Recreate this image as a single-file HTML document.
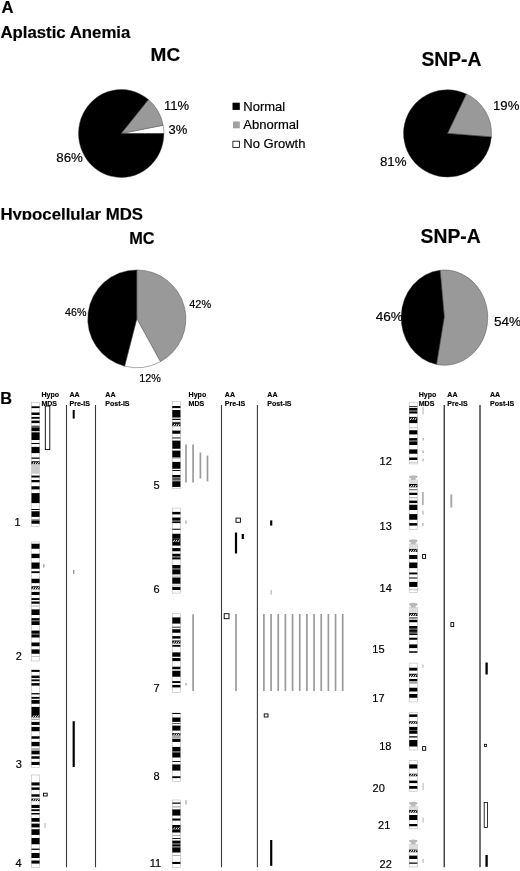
<!DOCTYPE html>
<html><head><meta charset="utf-8"><title>Figure</title>
<style>
html,body{margin:0;padding:0;background:#fff;}
svg{display:block;}
text{font-family:"Liberation Sans",sans-serif;fill:#000;stroke:#000;stroke-width:0.18px;}
.b{font-weight:bold;}
.h{stroke:#000;stroke-width:0.15px;}
</style></head><body>
<svg width="520" height="871" viewBox="0 0 520 871">
<rect width="520" height="871" fill="#fff"/>
<text x="1.6" y="13" class="b" font-size="16.6">A</text>
<text x="0.4" y="37.5" class="b" font-size="16.8">Aplastic Anemia</text>
<text x="150.6" y="61.2" class="b" font-size="19">MC</text>
<text x="421.4" y="66" class="b" font-size="19.3">SNP-A</text>
<clipPath id="cl"><rect x="0" y="200" width="200" height="19.8"/></clipPath>
<text x="0.4" y="220.1" class="b" font-size="16.8" clip-path="url(#cl)">Hypocellular MDS</text>
<text x="129.3" y="243.6" class="b" font-size="16.3">MC</text>
<text x="420.6" y="242.5" class="b" font-size="19.3">SNP-A</text>
<path d="M121.20,133.50 L163.90,133.50 A42.7,44.0 0 0 0 163.14,125.26 Z" fill="#fff" stroke="#444" stroke-width="0.45"/>
<path d="M121.20,133.50 L163.14,125.26 A42.7,44.0 0 0 0 148.42,99.60 Z" fill="#999" stroke="#444" stroke-width="0.45"/>
<path d="M121.20,133.50 L148.42,99.60 A42.7,44.0 0 1 0 163.90,133.50 Z" fill="#000" stroke="#444" stroke-width="0.45"/>
<text x="164" y="110.2" font-size="13">11%</text>
<text x="168.5" y="133.6" font-size="13">3%</text>
<text x="56.3" y="162.4" font-size="13.3">86%</text>
<rect x="232.5" y="102.7" width="7.3" height="7.2" fill="#000"/>
<rect x="233" y="121.5" width="6.8" height="6.8" fill="#a0a0a0"/>
<rect x="232.9" y="141.2" width="6.6" height="6.4" fill="#fff" stroke="#000" stroke-width="0.8"/>
<text x="243.3" y="110.6" font-size="13">Normal</text>
<text x="243.3" y="129" font-size="13">Abnormal</text>
<text x="243.3" y="147.7" font-size="13">No Growth</text>
<path d="M447.50,133.40 L491.36,136.90 A44.0,43.7 0 0 0 466.37,93.92 Z" fill="#999" stroke="#444" stroke-width="0.45"/>
<path d="M447.50,133.40 L466.37,93.92 A44.0,43.7 0 1 0 491.36,136.90 Z" fill="#000" stroke="#444" stroke-width="0.45"/>
<text x="493" y="110.2" font-size="13.2">19%</text>
<text x="379.9" y="165.8" font-size="13.3">81%</text>
<path d="M136.80,318.80 L160.45,361.65 A49.1,48.9 0 0 0 136.80,269.90 Z" fill="#999" stroke="#444" stroke-width="0.45"/>
<path d="M136.80,318.80 L124.59,366.16 A49.1,48.9 0 0 0 160.45,361.65 Z" fill="#fff" stroke="#444" stroke-width="0.45"/>
<path d="M136.80,318.80 L136.80,269.90 A49.1,48.9 0 0 0 124.59,366.16 Z" fill="#000" stroke="#444" stroke-width="0.45"/>
<text x="189.3" y="308.2" font-size="10.9">42%</text>
<text x="65" y="316" font-size="10.7">46%</text>
<text x="139.3" y="382" font-size="10.8">12%</text>
<path d="M444.30,316.70 L436.51,364.40 A43.3,47.6 0 1 0 440.10,270.24 Z" fill="#999" stroke="#444" stroke-width="0.45"/>
<path d="M444.30,316.70 L440.10,270.24 A43.3,47.6 0 0 0 436.51,364.40 Z" fill="#000" stroke="#444" stroke-width="0.45"/>
<text x="375.7" y="320.8" font-size="13.6">46%</text>
<text x="494" y="325.5" font-size="13.6">54%</text>
<text x="0.2" y="403.8" class="b" font-size="16.3">B</text>
<rect x="31.5" y="402.4" width="8.1" height="124.10" fill="#fff" stroke="#bbb" stroke-width="0.6"/>
<rect x="31.5" y="406.3" width="8.1" height="1.80" fill="#000"/>
<rect x="31.5" y="412.5" width="8.1" height="2.50" fill="#000"/>
<rect x="31.5" y="416.9" width="8.1" height="1.85" fill="#000"/>
<rect x="31.5" y="420.6" width="8.1" height="2.50" fill="#000"/>
<rect x="31.5" y="425.6" width="8.1" height="1.90" fill="#555"/>
<rect x="31.5" y="427.5" width="8.1" height="3.70" fill="#000"/>
<rect x="31.5" y="432.3" width="8.1" height="7.70" fill="#000"/>
<rect x="31.5" y="443" width="8.1" height="1.00" fill="#000"/>
<rect x="31.5" y="446.9" width="8.1" height="6.20" fill="#000"/>
<rect x="31.5" y="457.5" width="8.1" height="1.25" fill="#000"/>
<rect x="31.5" y="461.25" width="8.1" height="3.15" fill="#000"/>
<line x1="32.50" y1="464.50" x2="34.00" y2="462.10" stroke="#fff" stroke-width="1.0"/>
<line x1="34.80" y1="464.50" x2="36.30" y2="462.10" stroke="#fff" stroke-width="1.0"/>
<line x1="37.10" y1="464.50" x2="38.60" y2="462.10" stroke="#fff" stroke-width="1.0"/>
<rect x="31.5" y="464.4" width="8.1" height="9.35" fill="#ccc"/>
<rect x="31.5" y="475.6" width="8.1" height="1.90" fill="#000"/>
<rect x="31.5" y="480" width="8.1" height="2.30" fill="#000"/>
<rect x="31.5" y="486.25" width="8.1" height="3.15" fill="#000"/>
<rect x="31.5" y="493.1" width="8.1" height="10.00" fill="#000"/>
<rect x="31.5" y="509" width="8.1" height="1.00" fill="#000"/>
<rect x="31.5" y="511.25" width="8.1" height="5.65" fill="#000"/>
<rect x="31.5" y="519.4" width="8.1" height="1.60" fill="#555"/>
<rect x="31.5" y="521" width="8.1" height="2.75" fill="#000"/>
<rect x="31.5" y="542" width="8.1" height="119.00" fill="#fff" stroke="#bbb" stroke-width="0.6"/>
<rect x="31.5" y="543.75" width="8.1" height="5.00" fill="#000"/>
<rect x="31.5" y="553.75" width="8.1" height="4.35" fill="#000"/>
<rect x="31.5" y="562.5" width="8.1" height="6.25" fill="#000"/>
<rect x="31.5" y="571.25" width="8.1" height="1.85" fill="#000"/>
<rect x="31.5" y="578.75" width="8.1" height="4.35" fill="#000"/>
<rect x="31.5" y="586.25" width="8.1" height="3.15" fill="#000"/>
<line x1="32.50" y1="589.50" x2="34.00" y2="587.10" stroke="#fff" stroke-width="1.0"/>
<line x1="34.80" y1="589.50" x2="36.30" y2="587.10" stroke="#fff" stroke-width="1.0"/>
<line x1="37.10" y1="589.50" x2="38.60" y2="587.10" stroke="#fff" stroke-width="1.0"/>
<rect x="31.5" y="591.9" width="8.1" height="3.10" fill="#000"/>
<rect x="31.5" y="598.1" width="8.1" height="1.90" fill="#000"/>
<rect x="31.5" y="601.5" width="8.1" height="2.25" fill="#000"/>
<rect x="31.5" y="605.6" width="8.1" height="0.90" fill="#aaa"/>
<rect x="31.5" y="609.4" width="8.1" height="5.60" fill="#000"/>
<rect x="31.5" y="618.1" width="8.1" height="2.15" fill="#000"/>
<rect x="31.5" y="620.25" width="8.1" height="1.00" fill="#555"/>
<rect x="31.5" y="621.25" width="8.1" height="3.75" fill="#000"/>
<rect x="31.5" y="630.6" width="8.1" height="3.15" fill="#000"/>
<rect x="31.5" y="633.75" width="8.1" height="1.25" fill="#555"/>
<rect x="31.5" y="635" width="8.1" height="2.50" fill="#000"/>
<rect x="31.5" y="642.5" width="8.1" height="3.75" fill="#000"/>
<rect x="31.5" y="649.4" width="8.1" height="4.35" fill="#000"/>
<rect x="31.5" y="656.25" width="8.1" height="0.75" fill="#aaa"/>
<rect x="31.5" y="669.8" width="8.1" height="97.70" fill="#fff" stroke="#bbb" stroke-width="0.6"/>
<rect x="31.5" y="670" width="8.1" height="1.90" fill="#000"/>
<rect x="31.5" y="675.6" width="8.1" height="2.50" fill="#000"/>
<rect x="31.5" y="679.4" width="8.1" height="1.85" fill="#000"/>
<rect x="31.5" y="683.1" width="8.1" height="2.50" fill="#000"/>
<rect x="31.5" y="693.1" width="8.1" height="1.30" fill="#000"/>
<rect x="31.5" y="696.9" width="8.1" height="1.85" fill="#000"/>
<rect x="31.5" y="700" width="8.1" height="3.75" fill="#000"/>
<rect x="31.5" y="706.9" width="8.1" height="8.10" fill="#000"/>
<rect x="31.5" y="715" width="8.1" height="2.50" fill="#000"/>
<line x1="32.50" y1="717.60" x2="34.00" y2="715.40" stroke="#fff" stroke-width="1.0"/>
<line x1="34.80" y1="717.60" x2="36.30" y2="715.40" stroke="#fff" stroke-width="1.0"/>
<line x1="37.10" y1="717.60" x2="38.60" y2="715.40" stroke="#fff" stroke-width="1.0"/>
<rect x="31.5" y="718.75" width="8.1" height="1.25" fill="#aaa"/>
<rect x="31.5" y="721.9" width="8.1" height="3.10" fill="#000"/>
<rect x="31.5" y="726.9" width="8.1" height="4.35" fill="#000"/>
<rect x="31.5" y="736.25" width="8.1" height="2.50" fill="#000"/>
<rect x="31.5" y="741.9" width="8.1" height="4.35" fill="#000"/>
<rect x="31.5" y="748.1" width="8.1" height="1.90" fill="#aaa"/>
<rect x="31.5" y="750.6" width="8.1" height="3.80" fill="#000"/>
<rect x="31.5" y="756.25" width="8.1" height="2.50" fill="#000"/>
<rect x="31.5" y="761.9" width="8.1" height="3.10" fill="#000"/>
<rect x="31.5" y="775" width="8.1" height="92.40" fill="#fff" stroke="#bbb" stroke-width="0.6"/>
<rect x="31.5" y="782.4" width="8.1" height="3.10" fill="#000"/>
<rect x="31.5" y="787.4" width="8.1" height="2.50" fill="#000"/>
<rect x="31.5" y="794.25" width="8.1" height="2.50" fill="#000"/>
<rect x="31.5" y="798.6" width="8.1" height="2.50" fill="#000"/>
<line x1="32.50" y1="801.20" x2="34.00" y2="799.00" stroke="#fff" stroke-width="1.0"/>
<line x1="34.80" y1="801.20" x2="36.30" y2="799.00" stroke="#fff" stroke-width="1.0"/>
<line x1="37.10" y1="801.20" x2="38.60" y2="799.00" stroke="#fff" stroke-width="1.0"/>
<rect x="31.5" y="804.9" width="8.1" height="3.10" fill="#000"/>
<rect x="31.5" y="809.25" width="8.1" height="1.85" fill="#000"/>
<rect x="31.5" y="813" width="8.1" height="1.50" fill="#000"/>
<rect x="31.5" y="818" width="8.1" height="3.75" fill="#000"/>
<rect x="31.5" y="823.6" width="8.1" height="3.80" fill="#000"/>
<rect x="31.5" y="829.25" width="8.1" height="5.65" fill="#000"/>
<rect x="31.5" y="838" width="8.1" height="6.25" fill="#000"/>
<rect x="31.5" y="848.6" width="8.1" height="1.30" fill="#000"/>
<rect x="31.5" y="853" width="8.1" height="5.00" fill="#000"/>
<rect x="31.5" y="860.5" width="8.1" height="3.10" fill="#000"/>
<rect x="172.3" y="401.3" width="8.1" height="87.45" fill="#fff" stroke="#bbb" stroke-width="0.6"/>
<rect x="172.3" y="406" width="8.1" height="2.10" fill="#000"/>
<rect x="172.3" y="410" width="8.1" height="7.50" fill="#000"/>
<rect x="172.3" y="418.75" width="8.1" height="1.25" fill="#000"/>
<rect x="172.3" y="421.9" width="8.1" height="0.85" fill="#000"/>
<rect x="172.3" y="423.1" width="8.1" height="3.15" fill="#000"/>
<line x1="173.30" y1="426.35" x2="174.80" y2="423.95" stroke="#fff" stroke-width="1.0"/>
<line x1="175.60" y1="426.35" x2="177.10" y2="423.95" stroke="#fff" stroke-width="1.0"/>
<line x1="177.90" y1="426.35" x2="179.40" y2="423.95" stroke="#fff" stroke-width="1.0"/>
<rect x="172.3" y="430.6" width="8.1" height="3.15" fill="#000"/>
<rect x="172.3" y="437.5" width="8.1" height="0.90" fill="#000"/>
<rect x="172.3" y="440.6" width="8.1" height="8.15" fill="#000"/>
<rect x="172.3" y="450.6" width="8.1" height="6.90" fill="#000"/>
<rect x="172.3" y="458.3" width="8.1" height="0.60" fill="#aaa"/>
<rect x="172.3" y="461.9" width="8.1" height="6.85" fill="#000"/>
<rect x="172.3" y="470" width="8.1" height="0.90" fill="#000"/>
<rect x="172.3" y="475" width="8.1" height="2.50" fill="#000"/>
<rect x="172.3" y="478" width="8.1" height="2.60" fill="#555"/>
<rect x="172.3" y="481.25" width="8.1" height="5.65" fill="#000"/>
<rect x="172.3" y="508.1" width="8.1" height="85.00" fill="#fff" stroke="#bbb" stroke-width="0.6"/>
<rect x="172.3" y="511.9" width="8.1" height="2.50" fill="#000"/>
<rect x="172.3" y="517.5" width="8.1" height="2.50" fill="#000"/>
<rect x="172.3" y="520" width="8.1" height="1.50" fill="#555"/>
<rect x="172.3" y="521.5" width="8.1" height="1.60" fill="#000"/>
<rect x="172.3" y="528.75" width="8.1" height="1.00" fill="#000"/>
<rect x="172.3" y="533.75" width="8.1" height="5.00" fill="#000"/>
<rect x="172.3" y="538.75" width="8.1" height="3.15" fill="#000"/>
<line x1="173.30" y1="542.00" x2="174.80" y2="539.60" stroke="#fff" stroke-width="1.0"/>
<line x1="175.60" y1="542.00" x2="177.10" y2="539.60" stroke="#fff" stroke-width="1.0"/>
<line x1="177.90" y1="542.00" x2="179.40" y2="539.60" stroke="#fff" stroke-width="1.0"/>
<rect x="172.3" y="541.9" width="8.1" height="3.70" fill="#000"/>
<rect x="172.3" y="548.1" width="8.1" height="3.15" fill="#000"/>
<rect x="172.3" y="553.75" width="8.1" height="2.50" fill="#000"/>
<rect x="172.3" y="556.25" width="8.1" height="1.25" fill="#555"/>
<rect x="172.3" y="557.5" width="8.1" height="1.90" fill="#000"/>
<rect x="172.3" y="565" width="8.1" height="3.10" fill="#000"/>
<rect x="172.3" y="568.1" width="8.1" height="1.30" fill="#555"/>
<rect x="172.3" y="569.4" width="8.1" height="5.00" fill="#000"/>
<rect x="172.3" y="575.6" width="8.1" height="1.00" fill="#aaa"/>
<rect x="172.3" y="577.5" width="8.1" height="6.25" fill="#000"/>
<rect x="172.3" y="584.75" width="8.1" height="0.85" fill="#aaa"/>
<rect x="172.3" y="586.9" width="8.1" height="3.10" fill="#000"/>
<rect x="172.3" y="613.6" width="8.1" height="78.80" fill="#fff" stroke="#bbb" stroke-width="0.6"/>
<rect x="172.3" y="617.4" width="8.1" height="6.20" fill="#000"/>
<rect x="172.3" y="626.75" width="8.1" height="0.85" fill="#000"/>
<rect x="172.3" y="629.25" width="8.1" height="3.50" fill="#000"/>
<rect x="172.3" y="636.1" width="8.1" height="2.50" fill="#000"/>
<rect x="172.3" y="640.5" width="8.1" height="3.10" fill="#000"/>
<line x1="173.30" y1="643.70" x2="174.80" y2="641.30" stroke="#fff" stroke-width="1.0"/>
<line x1="175.60" y1="643.70" x2="177.10" y2="641.30" stroke="#fff" stroke-width="1.0"/>
<line x1="177.90" y1="643.70" x2="179.40" y2="641.30" stroke="#fff" stroke-width="1.0"/>
<rect x="172.3" y="644.9" width="8.1" height="1.85" fill="#000"/>
<rect x="172.3" y="652.4" width="8.1" height="4.35" fill="#000"/>
<rect x="172.3" y="658" width="8.1" height="3.10" fill="#000"/>
<rect x="172.3" y="666.75" width="8.1" height="2.50" fill="#000"/>
<rect x="172.3" y="670.75" width="8.1" height="6.00" fill="#000"/>
<rect x="172.3" y="681.1" width="8.1" height="1.90" fill="#000"/>
<rect x="172.3" y="684.9" width="8.1" height="2.50" fill="#000"/>
<rect x="172.3" y="713" width="8.1" height="68.25" fill="#fff" stroke="#bbb" stroke-width="0.6"/>
<rect x="172.3" y="713" width="8.1" height="1.00" fill="#000"/>
<rect x="172.3" y="717.5" width="8.1" height="4.40" fill="#000"/>
<rect x="172.3" y="723.1" width="8.1" height="0.65" fill="#000"/>
<rect x="172.3" y="725.6" width="8.1" height="5.00" fill="#000"/>
<rect x="172.3" y="733.1" width="8.1" height="2.50" fill="#000"/>
<line x1="173.30" y1="735.70" x2="174.80" y2="733.50" stroke="#fff" stroke-width="1.0"/>
<line x1="175.60" y1="735.70" x2="177.10" y2="733.50" stroke="#fff" stroke-width="1.0"/>
<line x1="177.90" y1="735.70" x2="179.40" y2="733.50" stroke="#fff" stroke-width="1.0"/>
<rect x="172.3" y="735.6" width="8.1" height="2.50" fill="#aaa"/>
<rect x="172.3" y="738.75" width="8.1" height="3.15" fill="#000"/>
<rect x="172.3" y="746.9" width="8.1" height="4.35" fill="#000"/>
<rect x="172.3" y="751.25" width="8.1" height="1.25" fill="#555"/>
<rect x="172.3" y="752.5" width="8.1" height="5.00" fill="#000"/>
<rect x="172.3" y="761" width="8.1" height="0.90" fill="#000"/>
<rect x="172.3" y="764.4" width="8.1" height="6.20" fill="#000"/>
<rect x="172.3" y="776.25" width="8.1" height="1.85" fill="#000"/>
<rect x="172.3" y="800" width="8.1" height="67.50" fill="#fff" stroke="#bbb" stroke-width="0.6"/>
<rect x="172.3" y="802.5" width="8.1" height="1.25" fill="#000"/>
<rect x="172.3" y="806.25" width="8.1" height="1.25" fill="#aaa"/>
<rect x="172.3" y="809.4" width="8.1" height="6.20" fill="#000"/>
<rect x="172.3" y="818.5" width="8.1" height="2.10" fill="#000"/>
<rect x="172.3" y="825" width="8.1" height="2.00" fill="#000"/>
<rect x="172.3" y="827" width="8.1" height="2.40" fill="#000"/>
<line x1="173.30" y1="829.50" x2="174.80" y2="827.40" stroke="#fff" stroke-width="1.0"/>
<line x1="175.60" y1="829.50" x2="177.10" y2="827.40" stroke="#fff" stroke-width="1.0"/>
<line x1="177.90" y1="829.50" x2="179.40" y2="827.40" stroke="#fff" stroke-width="1.0"/>
<rect x="172.3" y="829.4" width="8.1" height="3.10" fill="#000"/>
<rect x="172.3" y="835" width="8.1" height="1.00" fill="#aaa"/>
<rect x="172.3" y="838.1" width="8.1" height="0.90" fill="#000"/>
<rect x="172.3" y="840.6" width="8.1" height="2.50" fill="#000"/>
<rect x="172.3" y="843.1" width="8.1" height="1.30" fill="#555"/>
<rect x="172.3" y="844.4" width="8.1" height="1.85" fill="#000"/>
<rect x="172.3" y="846.25" width="8.1" height="1.25" fill="#555"/>
<rect x="172.3" y="847.5" width="8.1" height="5.00" fill="#000"/>
<rect x="172.3" y="855" width="8.1" height="0.90" fill="#aaa"/>
<rect x="172.3" y="861.9" width="8.1" height="2.10" fill="#000"/>
<rect x="409.2" y="402.25" width="8.1" height="61.65" fill="#fff" stroke="#bbb" stroke-width="0.6"/>
<rect x="409.2" y="406.25" width="8.1" height="0.75" fill="#000"/>
<rect x="409.2" y="407.9" width="8.1" height="2.70" fill="#000"/>
<rect x="409.2" y="410.6" width="8.1" height="0.90" fill="#555"/>
<rect x="409.2" y="411.5" width="8.1" height="2.00" fill="#000"/>
<rect x="409.2" y="416.9" width="8.1" height="3.10" fill="#000"/>
<line x1="410.20" y1="420.10" x2="411.70" y2="417.70" stroke="#fff" stroke-width="1.0"/>
<line x1="412.50" y1="420.10" x2="414.00" y2="417.70" stroke="#fff" stroke-width="1.0"/>
<line x1="414.80" y1="420.10" x2="416.30" y2="417.70" stroke="#fff" stroke-width="1.0"/>
<rect x="409.2" y="420" width="8.1" height="3.10" fill="#000"/>
<rect x="409.2" y="427.5" width="8.1" height="0.70" fill="#aaa"/>
<rect x="409.2" y="430.25" width="8.1" height="4.15" fill="#000"/>
<rect x="409.2" y="438.1" width="8.1" height="2.50" fill="#000"/>
<rect x="409.2" y="440.6" width="8.1" height="0.90" fill="#555"/>
<rect x="409.2" y="441.5" width="8.1" height="3.50" fill="#000"/>
<rect x="409.2" y="449.4" width="8.1" height="4.35" fill="#000"/>
<rect x="409.2" y="457.5" width="8.1" height="2.50" fill="#000"/>
<rect x="409.2" y="461.9" width="8.1" height="0.60" fill="#aaa"/>
<rect x="409.2" y="480" width="8.1" height="49.40" fill="#fff" stroke="#bbb" stroke-width="0.6"/>
<rect x="409.2" y="484" width="8.1" height="3.30" fill="#000"/>
<line x1="410.20" y1="487.40" x2="411.70" y2="485.00" stroke="#fff" stroke-width="1.0"/>
<line x1="412.50" y1="487.40" x2="414.00" y2="485.00" stroke="#fff" stroke-width="1.0"/>
<line x1="414.80" y1="487.40" x2="416.30" y2="485.00" stroke="#fff" stroke-width="1.0"/>
<rect x="409.2" y="489.2" width="8.1" height="1.00" fill="#555"/>
<rect x="409.2" y="492.75" width="8.1" height="2.25" fill="#000"/>
<rect x="409.2" y="497.25" width="8.1" height="1.00" fill="#aaa"/>
<rect x="409.2" y="500.6" width="8.1" height="2.50" fill="#000"/>
<rect x="409.2" y="504.75" width="8.1" height="5.25" fill="#000"/>
<rect x="409.2" y="514.1" width="8.1" height="5.65" fill="#000"/>
<rect x="409.2" y="523.1" width="8.1" height="2.50" fill="#000"/>
<rect x="409.2" y="479.80" width="8.1" height="4.20" fill="#ddd"/><rect x="410.90" y="477.80" width="4.70" height="2.2" fill="#bbb"/><ellipse cx="413.25" cy="476.70" rx="4.25" ry="1.55" fill="#b8b8b8"/>
<rect x="409.2" y="544" width="8.1" height="48.50" fill="#fff" stroke="#bbb" stroke-width="0.6"/>
<rect x="409.2" y="548.75" width="8.1" height="3.15" fill="#000"/>
<line x1="410.20" y1="552.00" x2="411.70" y2="549.60" stroke="#fff" stroke-width="1.0"/>
<line x1="412.50" y1="552.00" x2="414.00" y2="549.60" stroke="#fff" stroke-width="1.0"/>
<line x1="414.80" y1="552.00" x2="416.30" y2="549.60" stroke="#fff" stroke-width="1.0"/>
<rect x="409.2" y="555" width="8.1" height="4.00" fill="#000"/>
<rect x="409.2" y="562.5" width="8.1" height="5.60" fill="#000"/>
<rect x="409.2" y="572.5" width="8.1" height="1.90" fill="#000"/>
<rect x="409.2" y="577.5" width="8.1" height="1.00" fill="#000"/>
<rect x="409.2" y="581.9" width="8.1" height="5.00" fill="#000"/>
<rect x="409.2" y="589.4" width="8.1" height="0.80" fill="#aaa"/>
<rect x="409.2" y="544.00" width="8.1" height="4.80" fill="#ddd"/><rect x="410.90" y="542.00" width="4.70" height="2.2" fill="#bbb"/><ellipse cx="413.25" cy="540.90" rx="4.25" ry="1.55" fill="#b8b8b8"/>
<rect x="409.2" y="607.5" width="8.1" height="45.25" fill="#fff" stroke="#bbb" stroke-width="0.6"/>
<rect x="409.2" y="612.9" width="8.1" height="3.10" fill="#000"/>
<line x1="410.20" y1="616.10" x2="411.70" y2="613.70" stroke="#fff" stroke-width="1.0"/>
<line x1="412.50" y1="616.10" x2="414.00" y2="613.70" stroke="#fff" stroke-width="1.0"/>
<line x1="414.80" y1="616.10" x2="416.30" y2="613.70" stroke="#fff" stroke-width="1.0"/>
<rect x="409.2" y="617.5" width="8.1" height="0.90" fill="#000"/>
<rect x="409.2" y="619.75" width="8.1" height="2.50" fill="#000"/>
<rect x="409.2" y="626" width="8.1" height="2.75" fill="#000"/>
<rect x="409.2" y="628.75" width="8.1" height="1.25" fill="#555"/>
<rect x="409.2" y="630" width="8.1" height="1.90" fill="#000"/>
<rect x="409.2" y="631.9" width="8.1" height="1.85" fill="#555"/>
<rect x="409.2" y="633.75" width="8.1" height="1.25" fill="#000"/>
<rect x="409.2" y="637.75" width="8.1" height="2.00" fill="#000"/>
<rect x="409.2" y="644.4" width="8.1" height="3.70" fill="#000"/>
<rect x="409.2" y="651.25" width="8.1" height="1.50" fill="#000"/>
<rect x="409.2" y="607.50" width="8.1" height="5.50" fill="#ddd"/><rect x="410.90" y="605.50" width="4.70" height="2.2" fill="#bbb"/><ellipse cx="413.25" cy="604.40" rx="4.25" ry="1.55" fill="#b8b8b8"/>
<rect x="409.2" y="663.1" width="8.1" height="38.80" fill="#fff" stroke="#bbb" stroke-width="0.6"/>
<rect x="409.2" y="667.75" width="8.1" height="2.85" fill="#000"/>
<rect x="409.2" y="673.75" width="8.1" height="3.15" fill="#000"/>
<line x1="410.20" y1="677.00" x2="411.70" y2="674.60" stroke="#fff" stroke-width="1.0"/>
<line x1="412.50" y1="677.00" x2="414.00" y2="674.60" stroke="#fff" stroke-width="1.0"/>
<line x1="414.80" y1="677.00" x2="416.30" y2="674.60" stroke="#fff" stroke-width="1.0"/>
<rect x="409.2" y="679" width="8.1" height="2.00" fill="#000"/>
<rect x="409.2" y="681" width="8.1" height="2.75" fill="#aaa"/>
<rect x="409.2" y="687.75" width="8.1" height="3.75" fill="#000"/>
<rect x="409.2" y="694" width="8.1" height="3.75" fill="#000"/>
<rect x="409.2" y="712.25" width="8.1" height="37.75" fill="#fff" stroke="#bbb" stroke-width="0.6"/>
<rect x="409.2" y="714.4" width="8.1" height="2.50" fill="#000"/>
<rect x="409.2" y="721.25" width="8.1" height="2.50" fill="#000"/>
<line x1="410.20" y1="723.85" x2="411.70" y2="721.65" stroke="#fff" stroke-width="1.0"/>
<line x1="412.50" y1="723.85" x2="414.00" y2="721.65" stroke="#fff" stroke-width="1.0"/>
<line x1="414.80" y1="723.85" x2="416.30" y2="721.65" stroke="#fff" stroke-width="1.0"/>
<rect x="409.2" y="726.9" width="8.1" height="3.10" fill="#000"/>
<rect x="409.2" y="730" width="8.1" height="1.00" fill="#555"/>
<rect x="409.2" y="731" width="8.1" height="2.75" fill="#000"/>
<rect x="409.2" y="736.25" width="8.1" height="1.25" fill="#000"/>
<rect x="409.2" y="740" width="8.1" height="6.50" fill="#000"/>
<rect x="409.2" y="760.6" width="8.1" height="30.65" fill="#fff" stroke="#bbb" stroke-width="0.6"/>
<rect x="409.2" y="764.4" width="8.1" height="4.10" fill="#000"/>
<rect x="409.2" y="773.75" width="8.1" height="2.50" fill="#000"/>
<line x1="410.20" y1="776.35" x2="411.70" y2="774.15" stroke="#fff" stroke-width="1.0"/>
<line x1="412.50" y1="776.35" x2="414.00" y2="774.15" stroke="#fff" stroke-width="1.0"/>
<line x1="414.80" y1="776.35" x2="416.30" y2="774.15" stroke="#fff" stroke-width="1.0"/>
<rect x="409.2" y="780.6" width="8.1" height="2.50" fill="#000"/>
<rect x="409.2" y="786" width="8.1" height="2.75" fill="#000"/>
<rect x="409.2" y="806.3" width="8.1" height="22.45" fill="#fff" stroke="#bbb" stroke-width="0.6"/>
<rect x="409.2" y="809.75" width="8.1" height="3.00" fill="#000"/>
<line x1="410.20" y1="812.85" x2="411.70" y2="810.45" stroke="#fff" stroke-width="1.0"/>
<line x1="412.50" y1="812.85" x2="414.00" y2="810.45" stroke="#fff" stroke-width="1.0"/>
<line x1="414.80" y1="812.85" x2="416.30" y2="810.45" stroke="#fff" stroke-width="1.0"/>
<rect x="409.2" y="815" width="8.1" height="5.00" fill="#000"/>
<rect x="409.2" y="824" width="8.1" height="2.25" fill="#000"/>
<rect x="409.2" y="806.30" width="8.1" height="3.50" fill="#ddd"/><rect x="410.90" y="804.30" width="4.70" height="2.2" fill="#bbb"/><ellipse cx="413.25" cy="803.20" rx="4.25" ry="1.55" fill="#b8b8b8"/>
<rect x="409.2" y="844.2" width="8.1" height="22.70" fill="#fff" stroke="#bbb" stroke-width="0.6"/>
<rect x="409.2" y="849.4" width="8.1" height="2.85" fill="#000"/>
<line x1="410.20" y1="852.35" x2="411.70" y2="849.95" stroke="#fff" stroke-width="1.0"/>
<line x1="412.50" y1="852.35" x2="414.00" y2="849.95" stroke="#fff" stroke-width="1.0"/>
<line x1="414.80" y1="852.35" x2="416.30" y2="849.95" stroke="#fff" stroke-width="1.0"/>
<rect x="409.2" y="855.6" width="8.1" height="3.40" fill="#000"/>
<rect x="409.2" y="862.5" width="8.1" height="1.25" fill="#000"/>
<rect x="409.2" y="844.20" width="8.1" height="5.20" fill="#ddd"/><rect x="410.90" y="842.20" width="4.70" height="2.2" fill="#bbb"/><ellipse cx="413.25" cy="841.10" rx="4.25" ry="1.55" fill="#b8b8b8"/>
<text x="20.5" y="526.3" font-size="11" text-anchor="end">1</text>
<text x="21.9" y="660.3" font-size="11" text-anchor="end">2</text>
<text x="21.9" y="767.5" font-size="11" text-anchor="end">3</text>
<text x="21.5" y="866.8" font-size="11" text-anchor="end">4</text>
<text x="159.6" y="488.8" font-size="11" text-anchor="end">5</text>
<text x="159.6" y="593.2" font-size="11" text-anchor="end">6</text>
<text x="159.6" y="692.2" font-size="11" text-anchor="end">7</text>
<text x="159.6" y="780.2" font-size="11" text-anchor="end">8</text>
<text x="161.2" y="867" font-size="11" text-anchor="end">11</text>
<text x="391.8" y="465.3" font-size="11" text-anchor="end">12</text>
<text x="391.8" y="529.7" font-size="11" text-anchor="end">13</text>
<text x="391.8" y="592.3" font-size="11" text-anchor="end">14</text>
<text x="384.6" y="652.8" font-size="11" text-anchor="end">15</text>
<text x="384.6" y="702" font-size="11" text-anchor="end">17</text>
<text x="391.5" y="749.5" font-size="11" text-anchor="end">18</text>
<text x="384.8" y="791.7" font-size="11" text-anchor="end">20</text>
<text x="390.3" y="828.8" font-size="11" text-anchor="end">21</text>
<text x="391.8" y="867.9" font-size="11" text-anchor="end">22</text>
<text x="41.4" y="397.3" class="b h" font-size="7.05">Hypo</text>
<text x="41.4" y="405.8" class="b h" font-size="7.05">MDS</text>
<text x="69.5" y="397.3" class="b h" font-size="7.05">AA</text>
<text x="69.5" y="405.8" class="b h" font-size="7.05">Pre-IS</text>
<text x="105.3" y="397.3" class="b h" font-size="7.05">AA</text>
<text x="105.3" y="405.8" class="b h" font-size="7.05">Post-IS</text>
<text x="188.6" y="397.3" class="b h" font-size="7.05">Hypo</text>
<text x="188.6" y="405.8" class="b h" font-size="7.05">MDS</text>
<text x="224.8" y="397.3" class="b h" font-size="7.05">AA</text>
<text x="224.8" y="405.8" class="b h" font-size="7.05">Pre-IS</text>
<text x="267.3" y="397.3" class="b h" font-size="7.05">AA</text>
<text x="267.3" y="405.8" class="b h" font-size="7.05">Post-IS</text>
<text x="418.7" y="397.3" class="b h" font-size="7.05">Hypo</text>
<text x="418.7" y="405.8" class="b h" font-size="7.05">MDS</text>
<text x="447.3" y="397.3" class="b h" font-size="7.05">AA</text>
<text x="447.3" y="405.8" class="b h" font-size="7.05">Pre-IS</text>
<text x="490" y="397.3" class="b h" font-size="7.05">AA</text>
<text x="490" y="405.8" class="b h" font-size="7.05">Post-IS</text>
<line x1="66.5" y1="405" x2="66.5" y2="867.3" stroke="#3a3a3a" stroke-width="1.1"/>
<line x1="95.5" y1="405" x2="95.5" y2="867.3" stroke="#3a3a3a" stroke-width="1.1"/>
<line x1="221.5" y1="405" x2="221.5" y2="867.3" stroke="#3a3a3a" stroke-width="1.1"/>
<line x1="257.4" y1="405" x2="257.4" y2="867.3" stroke="#3a3a3a" stroke-width="1.1"/>
<line x1="444.25" y1="405" x2="444.25" y2="867.3" stroke="#333" stroke-width="1.35"/>
<line x1="480.0" y1="405" x2="480.0" y2="867.3" stroke="#333" stroke-width="1.4"/>
<rect x="45.3" y="406" width="4.50" height="43.60" fill="#fff" stroke="#000" stroke-width="0.9"/>
<line x1="73.7" y1="410" x2="73.7" y2="418.6" stroke="#000" stroke-width="2"/>
<line x1="73.7" y1="570" x2="73.7" y2="573.7" stroke="#999" stroke-width="1.4"/>
<line x1="43.8" y1="564.2" x2="43.8" y2="567.5" stroke="#999" stroke-width="1.4"/>
<line x1="73.7" y1="721.2" x2="73.7" y2="767" stroke="#000" stroke-width="2.2"/>
<rect x="43.5" y="793.2" width="3.70" height="2.80" fill="#fff" stroke="#000" stroke-width="0.9"/>
<line x1="45" y1="823" x2="45" y2="828" stroke="#bbb" stroke-width="1.2"/>
<line x1="186" y1="444.4" x2="186" y2="482.5" stroke="#9a9a9a" stroke-width="1.7"/>
<line x1="193.1" y1="444.4" x2="193.1" y2="482.5" stroke="#9a9a9a" stroke-width="1.7"/>
<line x1="200.4" y1="452.5" x2="200.4" y2="478.6" stroke="#9a9a9a" stroke-width="1.7"/>
<line x1="207.5" y1="455.6" x2="207.5" y2="481.4" stroke="#9a9a9a" stroke-width="1.7"/>
<line x1="186" y1="520.6" x2="186" y2="523.7" stroke="#aaa" stroke-width="1.3"/>
<line x1="193.1" y1="614.2" x2="193.1" y2="691.1" stroke="#9a9a9a" stroke-width="1.7"/>
<line x1="186" y1="683" x2="186" y2="685.6" stroke="#aaa" stroke-width="1.3"/>
<line x1="186" y1="800" x2="186" y2="804.4" stroke="#bbb" stroke-width="1.5"/>
<rect x="236" y="518.1" width="4.40" height="4.20" fill="#fff" stroke="#000" stroke-width="0.9"/>
<line x1="236" y1="532.5" x2="236" y2="553.5" stroke="#000" stroke-width="2.2"/>
<line x1="242.8" y1="534" x2="242.8" y2="539" stroke="#000" stroke-width="2.2"/>
<line x1="271.2" y1="520.4" x2="271.2" y2="525.6" stroke="#000" stroke-width="2.2"/>
<line x1="271.2" y1="590" x2="271.2" y2="594.5" stroke="#bbb" stroke-width="1.3"/>
<rect x="224.2" y="613.7" width="4.80" height="5.00" fill="#fff" stroke="#000" stroke-width="0.9"/>
<line x1="236" y1="614" x2="236" y2="691" stroke="#9a9a9a" stroke-width="1.7"/>
<line x1="263.9" y1="614" x2="263.9" y2="691" stroke="#9a9a9a" stroke-width="1.7"/>
<line x1="271.065" y1="614" x2="271.065" y2="691" stroke="#9a9a9a" stroke-width="1.7"/>
<line x1="278.22999999999996" y1="614" x2="278.22999999999996" y2="691" stroke="#9a9a9a" stroke-width="1.7"/>
<line x1="285.395" y1="614" x2="285.395" y2="691" stroke="#9a9a9a" stroke-width="1.7"/>
<line x1="292.56" y1="614" x2="292.56" y2="691" stroke="#9a9a9a" stroke-width="1.7"/>
<line x1="299.72499999999997" y1="614" x2="299.72499999999997" y2="691" stroke="#9a9a9a" stroke-width="1.7"/>
<line x1="306.89" y1="614" x2="306.89" y2="691" stroke="#9a9a9a" stroke-width="1.7"/>
<line x1="314.05499999999995" y1="614" x2="314.05499999999995" y2="691" stroke="#9a9a9a" stroke-width="1.7"/>
<line x1="321.21999999999997" y1="614" x2="321.21999999999997" y2="691" stroke="#9a9a9a" stroke-width="1.7"/>
<line x1="328.385" y1="614" x2="328.385" y2="691" stroke="#9a9a9a" stroke-width="1.7"/>
<line x1="335.54999999999995" y1="614" x2="335.54999999999995" y2="691" stroke="#9a9a9a" stroke-width="1.7"/>
<line x1="342.715" y1="614" x2="342.715" y2="691" stroke="#9a9a9a" stroke-width="1.7"/>
<rect x="264.2" y="713.9" width="3.80" height="3.10" fill="#fff" stroke="#000" stroke-width="0.9"/>
<line x1="271.2" y1="840" x2="271.2" y2="865.8" stroke="#000" stroke-width="2.2"/>
<line x1="423.1" y1="406.9" x2="423.1" y2="414.4" stroke="#ccc" stroke-width="1.5"/>
<line x1="423.1" y1="438" x2="423.1" y2="440.6" stroke="#bbb" stroke-width="1.5"/>
<line x1="423.1" y1="450.6" x2="423.1" y2="453" stroke="#bbb" stroke-width="1.5"/>
<line x1="423.1" y1="458.7" x2="423.1" y2="461.2" stroke="#bbb" stroke-width="1.5"/>
<line x1="422.9" y1="491.9" x2="422.9" y2="505" stroke="#aaa" stroke-width="1.6"/>
<line x1="422.9" y1="510.6" x2="422.9" y2="514.4" stroke="#bbb" stroke-width="1.5"/>
<line x1="422.9" y1="523.1" x2="422.9" y2="526.2" stroke="#bbb" stroke-width="1.5"/>
<line x1="451.3" y1="494.4" x2="451.3" y2="507.5" stroke="#aaa" stroke-width="2"/>
<rect x="422.6" y="554.4" width="3.00" height="4.00" fill="#fff" stroke="#000" stroke-width="0.9"/>
<rect x="450.9" y="622.6" width="2.80" height="4.00" fill="#fff" stroke="#000" stroke-width="0.9"/>
<line x1="422.9" y1="664.4" x2="422.9" y2="667.5" stroke="#bbb" stroke-width="1.3"/>
<rect x="422.6" y="746.6" width="3.10" height="3.70" fill="#fff" stroke="#000" stroke-width="0.9"/>
<line x1="423.1" y1="783.1" x2="423.1" y2="790" stroke="#ccc" stroke-width="1.5"/>
<line x1="423.1" y1="817.5" x2="423.1" y2="822.5" stroke="#ccc" stroke-width="1.5"/>
<line x1="423.1" y1="858.7" x2="423.1" y2="863.1" stroke="#ccc" stroke-width="1.5"/>
<line x1="486.6" y1="662.5" x2="486.6" y2="674.5" stroke="#000" stroke-width="2.3"/>
<rect x="484.4" y="744.3" width="2.20" height="2.20" fill="#fff" stroke="#000" stroke-width="0.8"/>
<rect x="484.2" y="802.6" width="3.20" height="25.00" fill="#fff" stroke="#000" stroke-width="0.8"/>
<line x1="486.6" y1="855" x2="486.6" y2="866.8" stroke="#000" stroke-width="2.3"/>
</svg>
</body></html>
